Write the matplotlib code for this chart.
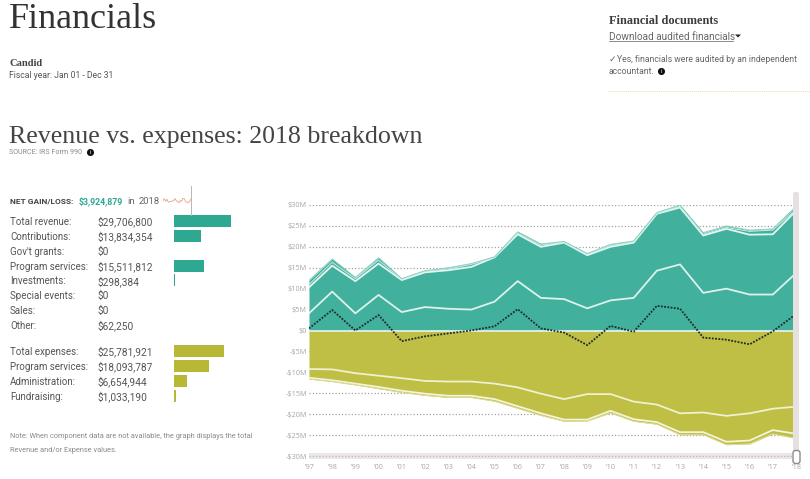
import matplotlib
matplotlib.use("Agg")
import matplotlib.pyplot as plt
from matplotlib.patches import Rectangle, FancyBboxPatch
import numpy as np

W, H = 810, 479

# values in $M
years = ["'97", "'98", "'99", "'00", "'01", "'02", "'03", "'04", "'05", "'06", "'07",
         "'08", "'09", "'10", "'11", "'12", "'13", "'14", "'15", "'16", "'17", "'18"]

contributions = [4.1, 9.3, 4.1, 8.5, 4.4, 5.6, 5.2, 5.0, 6.9, 11.8, 7.8,
                 7.5, 5.3, 7.2, 7.8, 14.3, 15.8, 9.0, 10.0, 8.6, 8.6, 13.7]
plus_program = [10.3, 15.5, 11.8, 16.0, 12.05, 13.9, 14.4, 15.2, 17.5, 23.0, 20.0,
                21.0, 18.0, 20.0, 21.0, 27.9, 29.4, 22.7, 24.3, 22.9, 23.0, 28.6]
plus_other = [11.0, 16.3, 12.4, 16.8, 12.3, 14.2, 14.7, 15.8, 17.5, 23.3, 20.4,
              21.1, 18.3, 20.3, 21.2, 28.0, 29.7, 23.0, 24.6, 23.7, 24.0, 28.9]
revenue = [12.0, 17.1, 12.7, 17.4, 12.4, 14.3, 15.0, 16.0, 17.6, 23.6, 20.7,
           21.3, 18.4, 20.6, 21.4, 28.2, 30.0, 23.4, 25.0, 24.0, 24.3, 29.7]

exp_program = [-9.2, -9.3, -10.2, -10.8, -11.4, -12.05, -12.2, -12.2, -12.7, -13.6, -15.1,
               -16.4, -15.2, -15.2, -17.0, -17.7, -19.8, -19.6, -20.4, -19.8, -18.7, -18.2]
exp_admin = [-11.3, -11.9, -12.7, -13.5, -14.4, -15.1, -15.6, -15.6, -16.4, -18.1, -19.8,
             -21.3, -21.3, -19.2, -21.2, -21.9, -24.3, -24.3, -26.6, -26.3, -23.8, -24.7]
expenses = [-11.6, -12.2, -13.0, -13.9, -14.8, -15.5, -16.0, -16.0, -16.9, -18.6, -20.3,
            -21.7, -21.6, -19.7, -21.7, -22.4, -24.9, -24.9, -27.3, -27.1, -24.7, -25.8]

net_gain = [0.5, 4.9, 0.0, 3.7, -2.55, -1.4, -0.7, 0.0, 1.0, 5.1, 0.5,
            -0.5, -3.5, 1.1, -0.3, 5.9, 5.2, -1.7, -2.2, -3.3, -0.2, 3.9]

y_ticks = [30, 25, 20, 15, 10, 5, 0, -5, -10, -15, -20, -25, -30]
y_tick_labels = ["$30M", "$25M", "$20M", "$15M", "$10M", "$5M", "$0", "-$5M", "-$10M",
                 "-$15M", "-$20M", "-$25M", "-$30M"]

rev_names = ["Total revenue:", "Contributions:", "Gov't grants:", "Program services:",
             "Investments:", "Special events:", "Sales:", "Other:"]
rev_values = [29706800, 13834354, 0, 15511812, 298384, 0, 0, 62250]
exp_names = ["Total expenses:", "Program services:", "Administration:", "Fundraising:"]
exp_values = [25781921, 18093787, 6654944, 1033190]

TEAL = "#41b19d"
BAR_TEAL = "#2fa892"
OLIVE = "#bfbe45"
BAR_OLIVE = "#b9b836"
SERIF = "Liberation Serif"
SANS = "Roboto"
CHART = "Open Sans"
VA = "center_baseline"


def px_axes(fig, left, top, right, bottom, **kw):
    return fig.add_axes([left / W, 1 - bottom / H, (right - left) / W, (bottom - top) / H], **kw)


fig = plt.figure(figsize=(W / 100, H / 100), dpi=100, facecolor="white")

# main area chart
ax = px_axes(fig, 309, 205, 796, 456)
x = np.arange(len(years))
ax.set_xlim(0, 21)
ax.set_ylim(-30, 30)
ax.fill_between(x, 0, revenue, color=TEAL, lw=0, zorder=2)
ax.fill_between(x, 0, expenses, color=OLIVE, lw=0, zorder=2)
for level, lw, col in [(contributions, 1.3, "#dff1ec"), (plus_program, 1.3, "#e6f5f1"),
                       (plus_other, 0.7, "#cdebe4"), (exp_program, 1.3, "#f1f1cf"),
                       (exp_admin, 1.3, "#f4f4da")]:
    ax.plot(x, level, color=col, lw=lw, zorder=3)
ax.plot(x, revenue, color="#7fcbbc", lw=0.6, zorder=3)
ax.plot(x, expenses, color="#dcdc9a", lw=0.7, zorder=3)
ax.axhline(0, color="#e8f5f1", lw=1.2, zorder=4)
ax.plot(x, net_gain, color="#1c2b2a", lw=1.3, ls=(0, (1, 0.8)), zorder=5)

ax.set_yticks(y_ticks)
ax.set_yticklabels(y_tick_labels, fontsize=5.2, color="#a9a4a4", family=CHART)
ax.set_xticks(x)
ax.set_xticklabels(years, fontsize=5.2, color="#a9a4a4", family=CHART)
ax.tick_params(axis="y", length=0, pad=1.5)
ax.tick_params(axis="x", length=1.5, width=0.5, color="#a9a4a4", pad=4)
ax.grid(axis="y", color="#a8a3a3", lw=0.9, ls=(0, (1, 1.6)), zorder=1)
for s in ax.spines.values():
    s.set_visible(False)

# page overlay in pixel coordinates
pg = fig.add_axes([0, 0, 1, 1], zorder=10)
pg.set_xlim(0, W)
pg.set_ylim(H, 0)
pg.axis("off")
pg.patch.set_alpha(0)

# scroll bars
pg.add_patch(FancyBboxPatch((793, 192), 6, 260, boxstyle="round,pad=0,rounding_size=2",
                            fc="#e6e0e0", ec="none"))
pg.add_patch(Rectangle((309, 453), 483, 6, fc="#ece7e7", ec="none", zorder=0))
pg.plot([309, 792], [456, 456], color="#bdb8b8", lw=0.9, ls=(0, (1, 1.6)), zorder=1)
pg.add_patch(FancyBboxPatch((793, 450.5), 7, 13, boxstyle="round,pad=0,rounding_size=2.5",
                            fc="white", ec="#8f8a8a", lw=1))

pg.text(9, 15, "Financials", family=SERIF, fontsize=26, color="#333333", va=VA)
pg.text(9, 62.5, "Candid", family=SERIF, fontsize=7.6, weight="bold", color="#444444", va=VA)
pg.text(9, 74.5, "Fiscal year: Jan 01 - Dec 31", family=SANS, fontsize=6.2, color="#555555", va=VA)
pg.text(9, 135, "Revenue vs. expenses: 2018 breakdown", family=SERIF, fontsize=18.6,
        color="#444444", va=VA)
pg.text(9, 152, "SOURCE: IRS Form 990", family=SANS, fontsize=5.1, color="#8a8a8a", va=VA)

pg.text(609, 19.5, "Financial documents", family=SERIF, fontsize=8.8, weight="bold",
        color="#3c3c3c", va=VA)
pg.text(609, 36, "Download audited financials", family=SANS, fontsize=7.2, color="#666666", va=VA)
pg.plot([609, 733], [41, 41], color="#777777", lw=0.6)
pg.fill([735, 741, 738], [34.5, 34.5, 37.5], color="#222222", lw=0)
pg.text(609, 58, "\u2713", family="DejaVu Sans", fontsize=6.5, color="#666666", va=VA)
pg.text(617, 58, "Yes, financials were audited by an independent", family=SANS, fontsize=6.2,
        color="#666666", va=VA)
pg.text(609, 70.5, "accountant.", family=SANS, fontsize=6.2, color="#666666", va=VA)
pg.plot([608, 810], [91, 91], color="#f3d9a0", lw=0.7, ls=(0, (1, 1)))

# info dots
for cx, cy in [(90, 152), (661, 71)]:
    pg.scatter([cx], [cy], s=26, color="#111111", lw=0, zorder=5)
    pg.text(cx, cy, "i", fontsize=4, color="white", ha="center", va="center", zorder=6)

pg.text(10, 200, "NET GAIN/LOSS:", family=SANS, fontsize=6.0, weight="bold", color="#444444", va=VA)
pg.text(79, 200, "$3,924,879", family=SANS, fontsize=6.3, weight="bold", color="#2fa892", va=VA)
pg.text(127, 200, "in", family=SANS, fontsize=6.8, color="#666666", va=VA)
pg.text(139, 200, "2018", family=SANS, fontsize=6.8, color="#666666", va=VA)
pg.plot([191, 191], [186, 215], color="#b5b5b5", lw=0.7)
pg.text(10, 436, "Note: When component data are not available, the graph displays the total",
        family=SANS, fontsize=5.35, color="#8a8a8a", va=VA)
pg.text(10, 449.5, "Revenue and/or Expense values.", family=SANS, fontsize=5.35, color="#8a8a8a", va=VA)

# sparkline of net gain
sp = px_axes(fig, 163, 198, 191, 203, zorder=9)
sp.plot(x, net_gain, color="#ee9d82", lw=0.6)
sp.set_xlim(0, 21)
sp.axis("off")


# breakdown rows: labels and values as text, bars on their own scale
def breakdown(names, values, top, step, color):
    n = len(names)
    bax = px_axes(fig, 174, top - step / 2, 260, top + step * (n - 0.5), zorder=9)
    bax.barh(np.arange(n), np.array(values) / 1e6, height=12 / step, color=color)
    bax.set_xlim(0, 86 / 1.92)
    bax.set_ylim(n - 0.5, -0.5)
    bax.axis("off")
    for i, (name, val) in enumerate(zip(names, values)):
        yy = top + i * step
        pg.text(10, yy, name, family=SANS, fontsize=7.0, color="#555555", va=VA)
        pg.text(98, yy, f"${val:,}", family=SANS, fontsize=7.3, color="#555555", va=VA)


breakdown(rev_names, rev_values, 221, 14.85, BAR_TEAL)
breakdown(exp_names, exp_values, 351, 15, BAR_OLIVE)

fig.savefig("out.png", dpi=100, facecolor="white")
